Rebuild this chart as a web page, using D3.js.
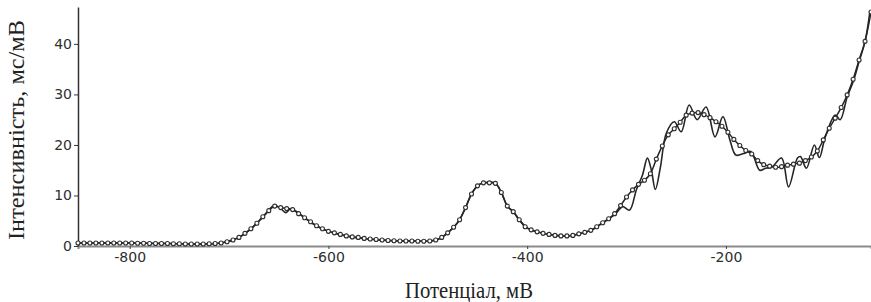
<!DOCTYPE html>
<html>
<head>
<meta charset="utf-8">
<script src="https://cdn.jsdelivr.net/npm/d3@7"></script>
<style>
body{margin:0;background:#fff}
svg{display:block}
.tick text{font-family:"DejaVu Sans",sans-serif;font-size:14px;fill:#2e2e2e}
.title{font-family:"Liberation Serif","Times New Roman",serif;font-size:24px;fill:#222}
</style>
</head>
<body>
<script>

// Smooth (fitted) curve, drawn with circle markers
var potential = [
  -852,-846,-840,-834,-828,-822,-816,-810,-804,-798,-792,-786,-780,-774,-768,-762,-756,-750,-744,-738,
  -732,-726,-720,-714,-708,-702,-696,-690,-684,-678,-672,-666,-660,-654,-648,-642,-636,-630,-624,-618,
  -612,-606,-600,-594,-588,-582,-576,-570,-564,-558,-552,-546,-540,-534,-528,-522,-516,-510,-504,-498,
  -492,-486,-480,-474,-468,-462,-456,-450,-444,-438,-432,-426,-420,-414,-408,-402,-396,-390,-384,-378,
  -372,-366,-360,-354,-348,-342,-336,-330,-324,-318,-312,-306,-300,-294,-288,-282,-276,-270,-264,-258,
  -252,-246,-240,-234,-228,-222,-216,-210,-204,-198,-192,-186,-180,-174,-168,-162,-156,-150,-144,-138,
  -132,-126,-120,-114,-108,-102,-96,-90,-84,-78,-72,-66,-60,-54
];
var intensity = [
  0.6,0.6,0.6,0.6,0.6,0.6,0.6,0.6,0.6,0.6,0.55,0.55,0.5,0.5,0.5,0.5,0.45,0.45,0.4,0.4,
  0.4,0.4,0.45,0.5,0.6,0.85,1.2,1.7,2.5,3.4,4.5,5.8,7.0,7.9,7.6,7.4,7.2,6.4,5.6,4.8,
  4.0,3.4,2.9,2.6,2.3,2.0,1.8,1.7,1.5,1.4,1.3,1.2,1.1,1.05,1.0,1.0,1.0,0.95,0.95,1.0,
  1.2,1.7,2.6,3.7,5.2,7.6,10.3,11.9,12.5,12.5,12.4,10.6,7.9,6.8,5.2,3.8,3.2,2.8,2.5,2.3,
  2.1,2.0,2.0,2.1,2.4,2.7,3.1,3.8,4.6,5.4,6.4,8.0,9.7,11.1,12.2,13.0,14.3,17.2,19.8,22.0,
  23.2,24.5,25.9,26.3,26.4,26.0,25.4,24.6,23.7,22.5,21.1,19.9,18.9,18.2,16.9,16.1,15.8,15.6,15.7,16.0,
  16.2,16.4,16.9,17.6,18.8,21.0,23.3,25.3,27.4,29.9,33.0,36.8,40.5,46.3
];

// Raw (oscillating) curve
var rawPotential = [
  -852,-800,-760,-730,-710,-700,-690,-680,-670,-662,-655,-649,-643,-638,-632,-624,-614,-600,-580,-560,
  -540,-515,-500,-490,-480,-470,-462,-456,-450,-444,-432,-426,-420,-414,-408,-400,-390,-375,-360,-348,
  -336,-324,-316,-310,-304,-297,-290,-284,-279,-275,-271,-266,-260,-252,-245,-237,-229,-220,-211,-203,
  -196,-190,-182,-175,-166,-160,-154,-144,-137,-128,-125,-119,-111,-106,-100,-90,-85,-78,-72,-66,
  -60,-55
];
var rawIntensity = [
  0.6,0.6,0.5,0.4,0.55,1.0,1.7,3.1,4.9,6.6,8.0,7.6,6.6,7.4,6.8,5.6,4.2,2.9,1.9,1.4,
  1.1,1.0,0.95,1.3,2.6,4.6,7.6,10.3,11.9,12.5,12.4,10.6,7.9,6.8,5.2,3.6,2.8,2.2,2.0,2.4,
  3.1,4.6,5.6,6.6,7.8,7.1,11.2,14.0,17.4,15.0,11.2,15.5,22.3,24.6,22.6,27.9,25.0,27.5,21.6,25.6,
  21.0,18.0,18.3,18.7,15.0,15.4,15.6,17.4,11.7,17.4,17.7,15.4,20.0,17.5,21.6,25.9,25.0,29.5,32.5,36.5,
  40.5,46.5
];

var yTicks = [0, 10, 20, 30, 40];
var xTicks = [-800, -600, -400, -200];

var W = 871, H = 302;
var m = {left: 78, right: 0, top: 7, bottom: 56};

var x = d3.scaleLinear().domain([-852, -54]).range([m.left, W - m.right]);
var y = d3.scaleLinear().domain([0, 47.3]).range([H - m.bottom, m.top]);

var svg = d3.select('body').append('svg').attr('width', W).attr('height', H);

var smooth = potential.map(function(p, i){ return [p, intensity[i]]; });
var raw = rawPotential.map(function(p, i){ return [p, rawIntensity[i]]; });

var line = d3.line()
    .x(function(d){ return x(d[0]); })
    .y(function(d){ return y(d[1]); })
    .curve(d3.curveCatmullRom.alpha(0.5));

// x axis (plain hyphen minus, as in the original)
var gx = svg.append('g')
    .attr('transform', 'translate(0,' + y(0) + ')')
    .call(d3.axisBottom(x).tickValues(xTicks).tickSize(3).tickPadding(3)
        .tickFormat(function(d){ return String(d); }));
gx.select('.domain').attr('stroke', '#8a8a8a').attr('stroke-width', 2);
gx.selectAll('.tick line').attr('stroke', '#444');

// y axis
var gy = svg.append('g')
    .attr('transform', 'translate(' + m.left + ',0)')
    .call(d3.axisLeft(y).tickValues(yTicks).tickSize(4).tickPadding(2).tickSizeOuter(0));
gy.select('.domain').attr('stroke', '#333').attr('stroke-width', 1.5);
gy.selectAll('.tick line').attr('stroke', '#333');

// raw curve
svg.append('path')
    .datum(raw)
    .attr('fill', 'none')
    .attr('stroke', '#262626')
    .attr('stroke-width', 1.6)
    .attr('d', line);

// smooth curve + markers
svg.append('path')
    .datum(smooth)
    .attr('fill', 'none')
    .attr('stroke', '#262626')
    .attr('stroke-width', 1.5)
    .attr('d', line);

svg.append('g').selectAll('circle')
    .data(smooth)
    .enter().append('circle')
    .attr('cx', function(d){ return x(d[0]); })
    .attr('cy', function(d){ return y(d[1]); })
    .attr('r', 2)
    .attr('fill', '#fff')
    .attr('stroke', '#2e2e2e')
    .attr('stroke-width', 1.1);

// titles
svg.append('text')
    .attr('class', 'title')
    .attr('x', 469).attr('y', 298)
    .attr('text-anchor', 'middle')
    .attr('textLength', 128).attr('lengthAdjust', 'spacingAndGlyphs')
    .text('Потенціал, мВ');

svg.append('text')
    .attr('class', 'title')
    .attr('transform', 'translate(24,130) rotate(-90)')
    .attr('text-anchor', 'middle')
    .attr('textLength', 220).attr('lengthAdjust', 'spacingAndGlyphs')
    .text('Інтенсивність, мс/мВ');
</script>
</body>
</html>
